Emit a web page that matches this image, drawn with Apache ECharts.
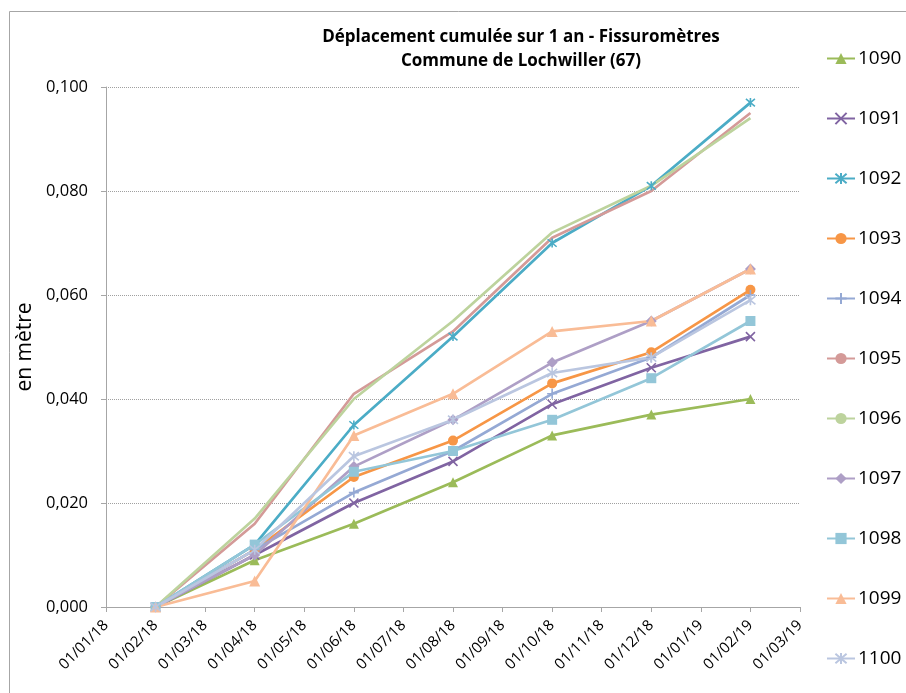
<!DOCTYPE html>
<html>
<head>
<meta charset="utf-8">
<script src="https://cdn.jsdelivr.net/npm/echarts@6/dist/echarts.min.js"></script>
<style>
  html, body { margin: 0; padding: 0; background: #fff; }
  #chart { width: 906px; height: 693px; }
</style>
</head>
<body>
<div id="chart"></div>
<script>
// Monthly axis categories (first of each month)
const months = ['01/01/18', '01/02/18', '01/03/18', '01/04/18', '01/05/18', '01/06/18', '01/07/18',
  '01/08/18', '01/09/18', '01/10/18', '01/11/18', '01/12/18', '01/01/19', '01/02/19', '01/03/19'];

// Dates of the readings
const readingDates = ['01/02/18', '01/04/18', '01/06/18', '01/08/18', '01/10/18', '01/12/18', '01/02/19'];

// Cumulative displacement per crack gauge (m)
const s1090 = [0, 0.009, 0.016, 0.024, 0.033, 0.037, 0.040];
const s1091 = [0, 0.010, 0.020, 0.028, 0.039, 0.046, 0.052];
const s1092 = [0, 0.012, 0.035, 0.052, 0.070, 0.081, 0.097];
const s1093 = [0, 0.011, 0.025, 0.032, 0.043, 0.049, 0.061];
const s1094 = [0, 0.011, 0.022, 0.030, 0.041, 0.048, 0.060];
const s1095 = [0, 0.016, 0.041, 0.053, 0.071, 0.080, 0.095];
const s1096 = [0, 0.017, 0.040, 0.055, 0.072, 0.081, 0.094];
const s1097 = [0, 0.010, 0.027, 0.036, 0.047, 0.055, 0.065];
const s1098 = [0, 0.012, 0.026, 0.030, 0.036, 0.044, 0.055];
const s1099 = [0, 0.005, 0.033, 0.041, 0.053, 0.055, 0.065];
const s1100 = [0, 0.011, 0.029, 0.036, 0.045, 0.048, 0.059];

// Y ticks
const yTicks = [0, 0.020, 0.040, 0.060, 0.080, 0.100];

const FONT = 'Open Sans';
const CROSS = 'path://M0,0L10,10M10,0L0,10';
const STAR = 'path://M0,0L10,10M10,0L0,10M5,-1L5,11';
const PLUS = 'path://M5,0L5,10M0,5L10,5';

const gauges = [
  { name: '1090', data: s1090, color: '#9bbb59', symbol: 'triangle', size: 10 },
  { name: '1091', data: s1091, color: '#8064a2', symbol: CROSS, size: 9, stroke: true },
  { name: '1092', data: s1092, color: '#4bacc6', symbol: STAR, size: 9, stroke: true },
  { name: '1093', data: s1093, color: '#f79646', symbol: 'circle', size: 10 },
  { name: '1094', data: s1094, color: '#95a9d4', symbol: PLUS, size: 10, stroke: true },
  { name: '1095', data: s1095, color: '#d49a98', symbol: 'none', size: 0 },
  { name: '1096', data: s1096, color: '#bdd39d', symbol: 'none', size: 0 },
  { name: '1097', data: s1097, color: '#ae9fc6', symbol: 'diamond', size: 11 },
  { name: '1098', data: s1098, color: '#93c6d8', symbol: 'rect', size: 10 },
  { name: '1099', data: s1099, color: '#f9bc96', symbol: 'triangle', size: 11 },
  { name: '1100', data: s1100, color: '#bac6e0', symbol: STAR, size: 10, stroke: true }
];

const chart = echarts.init(document.getElementById('chart'), null, { renderer: 'canvas' });

const series = gauges.map(g => ({
  name: g.name,
  type: 'line',
  data: readingDates.map((d, i) => [d, g.data[i]]),
  symbol: g.symbol,
  symbolSize: g.size,
  showSymbol: g.symbol !== 'none',
  lineStyle: { color: g.color, width: 2.7 },
  itemStyle: g.stroke
    ? { color: g.color, borderColor: g.color, borderWidth: 1.6 }
    : { color: g.color, borderColor: g.color, borderWidth: 0 },
  emphasis: { disabled: true },
  animation: false
}));

chart.setOption({
  animation: false,
  backgroundColor: '#ffffff',
  graphic: [{
    type: 'rect',
    shape: { x: 9.5, y: 11.5, width: 920, height: 700 },
    style: { fill: 'none', stroke: '#a6a6a6', lineWidth: 1 },
    silent: true
  }],
  title: {
    text: 'Déplacement cumulée sur 1 an - Fissuromètres\nCommune de Lochwiller (67)',
    left: 516,
    textAlign: 'center',
    top: 20,
    textStyle: { fontFamily: FONT, fontSize: 17, fontWeight: 'bold', color: '#000', lineHeight: 24 }
  },
  legend: {
    orient: 'vertical',
    left: 821,
    top: 44,
    itemWidth: 28,
    itemHeight: 14,
    itemGap: 41,
    textStyle: { fontFamily: FONT, fontSize: 19, color: '#000', padding: [0, 0, 0, -2] },
    data: gauges.map(g => g.name)
  },
  grid: { left: 106, right: 106, top: 87, bottom: 86, containLabel: false },
  xAxis: {
    type: 'category',
    data: months,
    boundaryGap: false,
    axisLine: { show: true, lineStyle: { color: '#a6a6a6', width: 1 } },
    axisTick: { show: true, alignWithLabel: true, length: 5, lineStyle: { color: '#a6a6a6' } },
    axisLabel: {
      interval: 0, rotate: 45, margin: 16,
      fontFamily: FONT, fontSize: 15, color: '#000'
    },
    splitLine: { show: false }
  },
  yAxis: {
    type: 'value',
    min: yTicks[0],
    max: yTicks[yTicks.length - 1],
    interval: yTicks[1] - yTicks[0],
    name: 'en mètre',
    nameLocation: 'middle',
    nameGap: 66,
    nameRotate: 90,
    nameTextStyle: { fontFamily: FONT, fontSize: 21, color: '#000' },
    axisLine: { show: true, lineStyle: { color: '#a6a6a6', width: 1 } },
    axisTick: { show: true, length: 5, lineStyle: { color: '#a6a6a6' } },
    axisLabel: {
      margin: 18, fontFamily: FONT, fontSize: 16.5, color: '#000',
      formatter: v => v.toFixed(3).replace('.', ',')
    },
    splitLine: { show: true, lineStyle: { color: '#a0a0a0', type: [1, 1], width: 1 } }
  },
  series: series
});
</script>
</body>
</html>
